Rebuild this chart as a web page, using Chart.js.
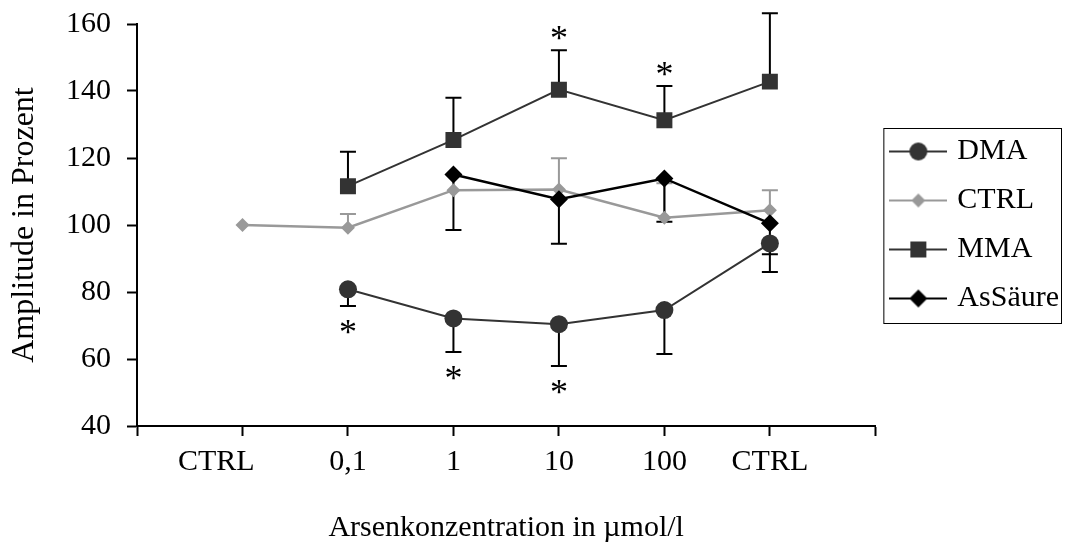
<!DOCTYPE html>
<html lang="de">
  <head>
    <meta charset="UTF-8" />
    <title>Amplitude in Prozent</title>
    <script src="https://cdn.jsdelivr.net/npm/chart.js"></script>
    <style>
      html,
      body {
        margin: 0;
        padding: 0;
        background: #fff;
      }
      #chart-box {
        width: 1070px;
        height: 554px;
      }
    </style>
  </head>
  <body>
    <div id="chart-box">
      <canvas id="ampChart" width="1070" height="554"></canvas>
    </div>
    <script>
      // x categories (empty slots at both ends of the axis)
      const categories = ['', 'CTRL', '0,1', '1', '10', '100', 'CTRL', '']

      // mean amplitude per group, with one-sided error bar end
      const dmaMean = [null, null, 80.8, 72.1, 70.4, 74.6, 94.5, null]
      const dmaErrLow = [null, null, 75.8, 62.1, 57.9, 61.5, 86.0, null]
      const ctrlMean = [null, 100, 99.2, 110.4, 110.6, 102.2, 104.4, null]
      const ctrlErrHigh = [null, null, 103.3, null, 119.9, 112.5, 110.4, null]
      const mmaMean = [null, null, 111.6, 125.4, 140.4, 131.3, 142.8, null]
      const mmaErrHigh = [null, null, 121.9, 138.0, 152.2, 141.5, 163.2, null]
      const asMean = [null, null, null, 115.1, 107.7, 113.9, 100.5, null]
      const asErrLow = [null, null, null, 98.5, 94.4, 101.0, 91.3, null]

      // significant differences (asterisk beyond the error bar)
      const dmaSig = [false, false, true, true, true, false, false, false]
      const mmaSig = [false, false, false, false, true, true, false, false]

      const yMin = 40
      const yMax = 160
      const yStep = 20

      const serif = "'Liberation Serif', 'Times New Roman', serif"
      Chart.defaults.font.family = serif
      Chart.defaults.font.size = 30
      Chart.defaults.color = '#000'

      const seriesStyle = [
        { label: 'DMA', color: '#333333', line: 2, pointStyle: 'circle', radius: 9 },
        { label: 'CTRL', color: '#999999', line: 2.5, pointStyle: 'rectRot', radius: 7 },
        { label: 'MMA', color: '#333333', line: 2, pointStyle: 'rect', radius: 11.3 },
        { label: 'AsSäure', color: '#000000', line: 2.5, pointStyle: 'rectRot', radius: 9 }
      ]

      // small line+marker pictures for the legend
      function legendIcon(st) {
        const c = document.createElement('canvas')
        c.width = 58
        c.height = 24
        const g = c.getContext('2d')
        g.strokeStyle = st.color
        g.fillStyle = st.color
        g.lineWidth = 2
        g.beginPath()
        g.moveTo(0, 12)
        g.lineTo(58, 12)
        g.stroke()
        Chart.helpers.drawPoint(
          g,
          { pointStyle: st.pointStyle, radius: st.radius, rotation: 0, borderWidth: 0 },
          29,
          12
        )
        return c
      }
      const legendIcons = seriesStyle.map(legendIcon)

      function makeDataset(st, values, errEnd, errColor, sig, order) {
        return {
          label: st.label,
          data: values,
          borderColor: st.color,
          backgroundColor: st.color,
          borderWidth: st.line,
          pointStyle: st.pointStyle,
          pointRadius: st.radius,
          pointBorderWidth: 0,
          pointBackgroundColor: st.color,
          tension: 0,
          order: order,
          errorEnd: errEnd,
          errorColor: errColor,
          significant: sig
        }
      }

      // error bars go under the markers, asterisks on top
      const errorBarPlugin = {
        id: 'errorBars',
        beforeDatasetsDraw(chart) {
          const ctx = chart.ctx
          const xs = chart.scales.x
          const ys = chart.scales.y
          chart.data.datasets.forEach(ds => {
            if (!ds.errorEnd) return
            ctx.save()
            ctx.strokeStyle = ds.errorColor
            ctx.lineWidth = 2
            ds.data.forEach((v, i) => {
              const e = ds.errorEnd[i]
              if (v == null || e == null) return
              const x = xs.getPixelForValue(i)
              const y0 = ys.getPixelForValue(v)
              const y1 = ys.getPixelForValue(e)
              ctx.beginPath()
              ctx.moveTo(x, y0)
              ctx.lineTo(x, y1)
              ctx.moveTo(x - 8, y1)
              ctx.lineTo(x + 8, y1)
              ctx.stroke()
            })
            ctx.restore()
          })
        },
        afterDatasetsDraw(chart) {
          const ctx = chart.ctx
          const xs = chart.scales.x
          const ys = chart.scales.y
          ctx.save()
          ctx.fillStyle = '#000'
          ctx.font = '36px ' + serif
          ctx.textAlign = 'center'
          ctx.textBaseline = 'alphabetic'
          chart.data.datasets.forEach(ds => {
            if (!ds.significant) return
            ds.significant.forEach((s, i) => {
              if (!s) return
              const v = ds.data[i]
              const e = ds.errorEnd[i]
              const x = xs.getPixelForValue(i)
              const ye = ys.getPixelForValue(e)
              const yc = e > v ? ye - 17 : ye + 21
              ctx.fillText('*', x, yc + 17)
            })
          })
          ctx.restore()
        }
      }

      // frame around the legend
      const legendFramePlugin = {
        id: 'legendFrame',
        afterDraw(chart) {
          const lg = chart.legend
          if (!lg || !lg.legendHitBoxes.length) return
          const boxes = lg.legendHitBoxes
          const first = boxes[0]
          const last = boxes[boxes.length - 1]
          const ctx = chart.ctx
          ctx.save()
          ctx.strokeStyle = '#000'
          ctx.lineWidth = 1
          const left = lg.left + 8.5
          const top = Math.round(first.top - 9) + 0.5
          const right = chart.width - 8.5
          const bottom = Math.round(last.top + last.height + 9) + 0.5
          ctx.strokeRect(left, top, right - left, bottom - top)
          ctx.restore()
        }
      }

      new Chart(document.getElementById('ampChart'), {
        type: 'line',
        data: {
          labels: categories,
          datasets: [
            makeDataset(seriesStyle[0], dmaMean, dmaErrLow, '#000', dmaSig, 4),
            makeDataset(seriesStyle[1], ctrlMean, ctrlErrHigh, '#999999', null, 3),
            makeDataset(seriesStyle[2], mmaMean, mmaErrHigh, '#000', mmaSig, 2),
            makeDataset(seriesStyle[3], asMean, asErrLow, '#000', null, 1)
          ]
        },
        options: {
          responsive: false,
          animation: false,
          devicePixelRatio: 1,
          layout: { padding: { top: 24, right: 1, bottom: 0, left: 0 } },
          plugins: {
            tooltip: { enabled: false },
            legend: {
              position: 'right',
              fullSize: false,
              labels: {
                usePointStyle: true,
                pointStyleWidth: 48,
                padding: 19,
                color: '#000',
                font: { size: 30, family: serif },
                generateLabels(chart) {
                  return chart.data.datasets.map((ds, i) => ({
                    text: ds.label,
                    pointStyle: legendIcons[i],
                    datasetIndex: i,
                    fillStyle: ds.borderColor,
                    strokeStyle: ds.borderColor,
                    lineWidth: 0,
                    fontColor: '#000',
                    hidden: false
                  }))
                }
              }
            }
          },
          scales: {
            x: {
              type: 'category',
              offset: false,
              afterFit(scale) {
                scale.height = 128
              },
              grid: {
                offset: false,
                drawOnChartArea: false,
                drawTicks: true,
                tickLength: 10,
                tickWidth: 2,
                tickColor: '#000'
              },
              border: { color: '#000', width: 2 },
              ticks: {
                autoSkip: false,
                maxRotation: 0,
                padding: 8,
                font: { size: 30 },
                callback(value, index) {
                  const t = categories[index]
                  // first CTRL label sits a little left of its tick
                  return index === 1 ? t + '       ' : t
                }
              },
              title: {
                display: true,
                text: 'Arsenkonzentration in µmol/l',
                font: { size: 30 },
                padding: { top: 0, bottom: 8 }
              }
            },
            y: {
              min: yMin,
              max: yMax,
              afterFit(scale) {
                scale.width = 137
                // the top label may overhang; keep the plot top fixed
                scale.paddingTop = 0
                scale.paddingBottom = 0
              },
              grid: {
                drawOnChartArea: false,
                drawTicks: true,
                tickLength: 10,
                tickWidth: 2,
                tickColor: '#000'
              },
              border: { color: '#000', width: 2 },
              ticks: { stepSize: yStep, padding: 16, font: { size: 30 } },
              title: {
                display: true,
                text: 'Amplitude in Prozent',
                font: { size: 32 },
                padding: { top: 5, bottom: 0 }
              }
            }
          }
        },
        plugins: [errorBarPlugin, legendFramePlugin]
      })
    </script>
  </body>
</html>
